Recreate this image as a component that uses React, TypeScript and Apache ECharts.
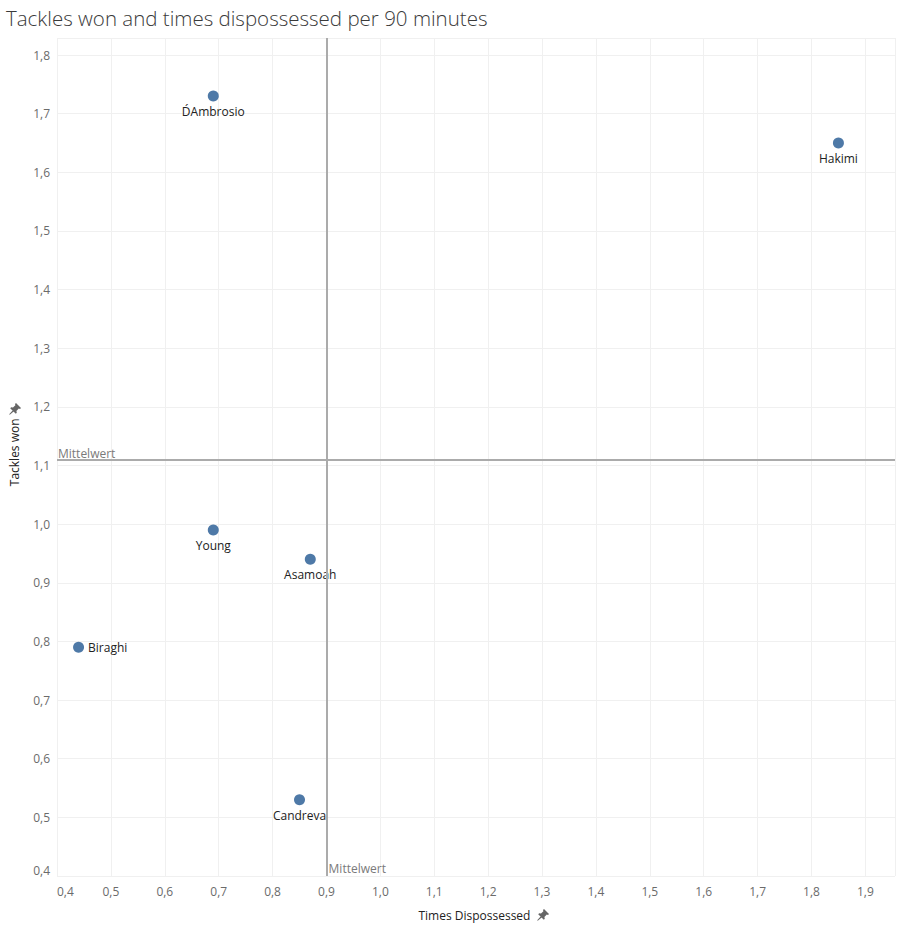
import React, { useEffect, useRef } from "react";
import * as echarts from "echarts";

const players = ["D\u0301Ambrosio", "Hakimi", "Young", "Asamoah", "Biraghi", "Candreva"];
const timesDispossessed = [0.69, 1.85, 0.69, 0.87, 0.44, 0.85];
const tacklesWon = [1.73, 1.65, 0.99, 0.94, 0.79, 0.53];

const titleText = "Tackles won and times dispossessed per 90 minutes";
const xName = "Times Dispossessed";
const yName = "Tackles won";
const meanLabel = "Mittelwert";

const labelRight: Record<string, boolean> = { Biraghi: true };

const FONT = "'Open Sans', sans-serif";
const PIN =
  "M7 0 L12 5 L11 6 L9.8 5.6 L7.4 8 L7.8 9.8 L6.8 10.8 L1.2 5.2 L2.2 4.2 L4 4.6 L6.4 2.2 L6 1 Z M3.6 7.4 L0.2 11.2 L0.8 11.8 L4.6 8.4 Z";

echarts.graphic.registerShape("pin", echarts.graphic.extendPath(PIN, {}));

const fmt = (v: number) => v.toFixed(1).replace(".", ",");

export default function App() {
  const ref = useRef<HTMLDivElement>(null);
  useEffect(() => {
    if (!ref.current) return;
    const chart = echarts.init(ref.current, null, { renderer: "svg" });
    const meanX = timesDispossessed.reduce((a, b) => a + b, 0) / timesDispossessed.length;
    const meanY = tacklesWon.reduce((a, b) => a + b, 0) / tacklesWon.length;
    const xMin = 0.4, xMax = 1.955, yMin = 0.4, yMax = 1.829;

    const data = players.map((p, i) => ({
      name: p,
      value: [timesDispossessed[i], tacklesWon[i]],
      label: labelRight[p]
        ? { position: "right", distance: 4 }
        : { position: "bottom", distance: 4 },
    }));

    const option: any = {
      animation: false,
      textStyle: { fontFamily: FONT },
      title: {
        text: titleText,
        left: 1,
        top: 2,
        textStyle: { fontFamily: FONT, fontSize: 20.5, fontWeight: 300, color: "#3a3a3a" },
      },
      grid: { left: 57, right: 4, top: 38, bottom: 53, containLabel: false },
      xAxis: {
        type: "value",
        min: xMin,
        max: xMax,
        interval: 0.1,
        name: xName + " ",
        nameLocation: "middle",
        nameGap: 33,
        nameTextStyle: { fontFamily: FONT, fontSize: 12, color: "#222", verticalAlign: "top" },
        axisLine: { show: false },
        axisTick: { show: false },
        axisLabel: {
          formatter: fmt,
          color: "#6b6b6b",
          fontSize: 12,
          fontFamily: FONT,
          margin: 9,
          showMaxLabel: false,
          alignMinLabel: "left",
        },
        splitLine: { show: true, lineStyle: { color: "#f0f0f0", width: 1 } },
      },
      yAxis: {
        type: "value",
        min: yMin,
        max: yMax,
        interval: 0.1,
        name: "   " + yName,
        nameLocation: "middle",
        nameRotate: 90,
        nameGap: 37,
        nameTextStyle: { fontFamily: FONT, fontSize: 12, color: "#222" },
        axisLine: { show: false },
        axisTick: { show: false },
        axisLabel: {
          formatter: fmt,
          color: "#6b6b6b",
          fontSize: 12,
          fontFamily: FONT,
          margin: 7,
          showMaxLabel: false,
          verticalAlignMinLabel: "bottom",
        },
        splitLine: { show: true, lineStyle: { color: "#f0f0f0", width: 1 } },
      },
      series: [
        {
          type: "scatter",
          data,
          symbolSize: 11,
          itemStyle: { color: "#4e79a7", opacity: 1 },
          label: {
            show: true,
            formatter: "{b}",
            color: "#222",
            fontSize: 12,
            fontFamily: FONT,
          },
          markLine: {
            silent: true,
            symbol: "none",
            label: { show: false },
            lineStyle: { color: "#ababab", width: 2, type: "solid" },
            data: [{ xAxis: meanX }, { yAxis: meanY }],
          },
          z: 3,
        },
      ],
    };
    chart.setOption(option);

    const [vx, vBottom] = chart.convertToPixel({ gridIndex: 0 }, [meanX, yMin]);
    const [hLeft, hy] = chart.convertToPixel({ gridIndex: 0 }, [xMin, meanY]);

    chart.setOption({
      graphic: [
        {
          type: "text",
          x: vx + 3,
          y: vBottom - 2,
          style: { text: meanLabel, fontFamily: FONT, fontSize: 12, fill: "#7a7a7a", verticalAlign: "bottom", align: "left" },
        },
        {
          type: "text",
          x: hLeft + 1,
          y: hy - 3,
          style: { text: meanLabel, fontFamily: FONT, fontSize: 12, fill: "#7a7a7a", verticalAlign: "bottom", align: "left" },
        },
        {
          type: "pin",
          x: 537,
          y: 909,
          style: { fill: "#666" },
        },
        {
          type: "pin",
          x: 9,
          y: 403,
          style: { fill: "#666" },
        },
      ],
    });

    return () => chart.dispose();
  }, []);
  return <div ref={ref} style={{ width: 899, height: 929, position: "absolute", left: 0, top: 0 }} />;
}
